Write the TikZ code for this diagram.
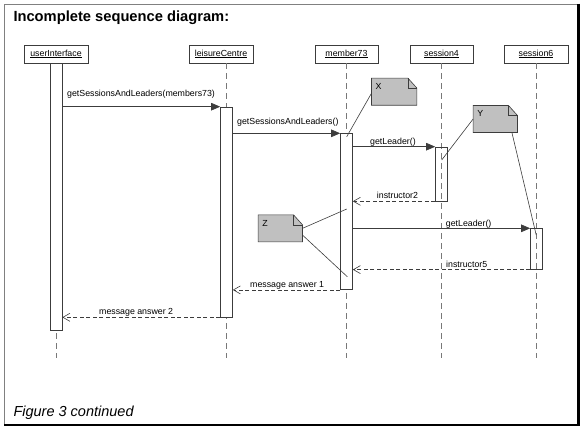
\documentclass[tikz,border=0pt]{standalone}
\usepackage{fontspec}
\setmainfont{Liberation Sans}
\usetikzlibrary{arrows.meta,calc}
\definecolor{notegray}{RGB}{192,192,192}
\definecolor{linegray}{RGB}{60,60,60}
\definecolor{lifegray}{RGB}{120,120,120}
\newcommand\umlnote[6]{%
  \node[minimum width=#3pt, minimum height=#4pt, inner sep=0pt] (#1) at (#2) {};
  \draw[notebody] (#1.north west) -- ($(#1.north east)+(-9,0)$) -- ($(#1.north east)+(0,10)$) -- (#1.south east) -- (#1.south west) -- cycle;
  \draw[noteline] ($(#1.north east)+(-9,0)$) -- ($(#1.north east)+(-9,10)$) -- ($(#1.north east)+(0,10)$);
  \node[lbl, anchor=north west] (#6) at ($(#1.north west)+(4,5)$) {#5};
}
\begin{document}
\begin{tikzpicture}[x=1pt,y=-1pt,
  head/.style={draw=linegray, fill=white, line width=0.6pt, minimum width=64pt, minimum height=18pt, inner sep=0pt, font=\fontsize{8.8}{10}\selectfont},
  actbar/.style={draw=linegray, line width=0.6pt, minimum width=12pt, inner sep=0pt, anchor=north},
  lifeline/.style={draw=lifegray, line width=0.6pt, dash pattern=on 6pt off 4pt},
  callmsg/.style={draw=linegray, line width=0.6pt, -{Triangle[length=9pt,width=7.5pt]}},
  retmsg/.style={draw=linegray, line width=0.6pt, dash pattern=on 4pt off 2.5pt, -{Straight Barb[length=7pt,width=8pt]}},
  lbl/.style={font=\fontsize{8.8}{10}\selectfont, inner sep=0pt, anchor=base west},
  notebody/.style={draw=linegray, fill=notegray, line width=0.6pt},
  noteline/.style={draw=linegray, line width=0.6pt},
]
\useasboundingbox (0,0) rectangle (586,432);
% frame
\draw[draw=gray, line width=1pt] (4.5,4.5) rectangle (578,424);
\draw[line width=2.5pt, black] (578.6,3.5) -- (578.6,424.8) -- (3.5,424.8);
\node[anchor=base west, font=\fontsize{14.7}{16}\selectfont\bfseries, inner sep=0pt] (title) at (13.3,21) {Incomplete sequence diagram:};
\node[anchor=base west, font=\fontsize{14.5}{16}\selectfont\itshape, inner sep=0pt] (caption) at (13.3,416) {Figure 3 continued};

% lifeline heads
\node[head] (ui) at (56,54) {\underline{userInterface}};
\node[head] (lc) at (221,54) {\underline{leisureCentre}};
\node[head, minimum width=63pt] (m73) at (346.5,54) {\underline{member73}};
\node[head, minimum width=63pt] (s4) at (441.5,54) {\underline{session4}};
\node[head] (s6) at (536,54) {\underline{session6}};

% lifelines
\coordinate (uiTop) at (56,63);   \coordinate (uiEnd) at (56,358);
\coordinate (lcTop) at (226.5,63); \coordinate (lcEnd) at (226.5,358);
\coordinate (m73Top) at (346.5,63); \coordinate (m73End) at (346.5,358);
\coordinate (s4Top) at (441.5,63); \coordinate (s4End) at (441.5,358);
\coordinate (s6Top) at (536.5,63); \coordinate (s6End) at (536.5,358);
\draw[lifeline] (uiTop) -- (uiEnd);
\draw[lifeline] (lcTop) -- (lcEnd);
\draw[lifeline] (m73Top) -- (m73End);
\draw[lifeline] (s4Top) -- (s4End);
\draw[lifeline] (s6Top) -- (s6End);

% activation bars
\node[actbar, fill=white, minimum height=267pt] (uiBar) at (56,63) {};
\node[actbar, fill=white, minimum height=210pt] (lcBar) at (226.5,106.7) {};
\node[actbar, fill=white, minimum height=156pt] (m73Bar) at (346.5,133.3) {};
\node[actbar, minimum height=54pt] (s4Bar) at (441.5,146.7) {};
\node[actbar, minimum height=40.7pt] (s6Bar) at (536.5,228.3) {};

% messages
\draw[callmsg] (uiBar.east |- lcBar.north) -- (lcBar.north west);
\draw[callmsg] (lcBar.east |- m73Bar.north) -- (m73Bar.north west);
\draw[callmsg] (m73Bar.east |- s4Bar.north) -- (s4Bar.north west);
\draw[retmsg] (s4Bar.south west) -- (m73Bar.east |- s4Bar.south);
\draw[callmsg] (m73Bar.east |- s6Bar.north) -- (s6Bar.north west);
\draw[retmsg] (s6Bar.south west) -- (m73Bar.east |- s6Bar.south);
\draw[retmsg] (m73Bar.south west) -- (lcBar.east |- m73Bar.south);
\draw[retmsg] (lcBar.south west) -- (uiBar.east |- lcBar.south);

% message labels
\node[lbl] (l1) at (67,96.7) {getSessionsAndLeaders(members73)};
\node[lbl] (l2) at (237,124) {getSessionsAndLeaders()};
\node[lbl] (l3) at (370,144.3) {getLeader()};
\node[lbl] (l4) at (376.7,198.8) {instructor2};
\node[lbl] (l5) at (445.7,226) {getLeader()};
\node[lbl] (l6) at (446,267.2) {instructor5};
\node[lbl] (l7) at (250,287) {message answer 1};
\node[lbl] (l8) at (99,314.5) {message answer 2};

% notes
\umlnote{noteX}{394.2,91.65}{45}{26.7}{X}{noteXl}
\umlnote{noteY}{495.3,119}{44}{26.6}{Y}{noteYl}
\umlnote{noteZ}{280.3,228.35}{44}{26.7}{Z}{noteZl}

\coordinate (xTip) at (346.7,136.7);
\coordinate (yTip1) at (441.7,160);
\coordinate (yTip2) at (536.2,235);
\coordinate (zTip1) at (346.7,209);
\coordinate (zTip2) at (347.3,276.7);
\draw[noteline] ($(noteX.west)+(0,1.6)$) -- (xTip);
\draw[noteline] (noteY.west) -- (yTip1);
\draw[noteline] ($(noteY.south east)+(-5.6,0)$) -- (yTip2);
\draw[noteline] (noteZ.east) -- (zTip1);
\draw[noteline] ($(noteZ.east)+(0,6.7)$) -- (zTip2);
\end{tikzpicture}
\end{document}
